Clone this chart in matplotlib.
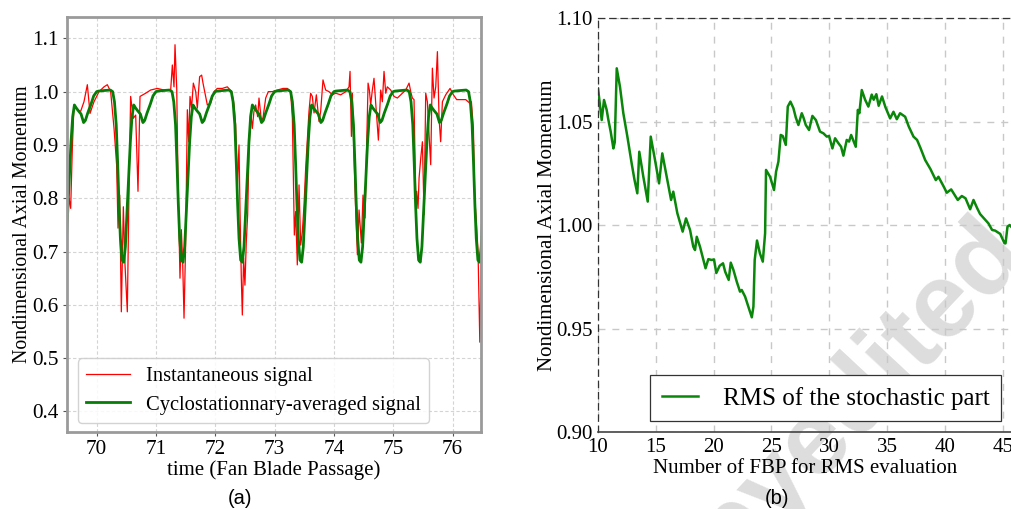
import matplotlib
matplotlib.use("Agg")
import matplotlib.pyplot as plt
import numpy as np

# ---- panel (a): instantaneous signal vs time
t_inst = [69.505, 69.534, 69.562, 69.59, 69.618, 69.674, 69.73, 69.786, 69.843, 69.888,
          69.955, 70.04, 70.124, 70.18, 70.236, 70.293, 70.337, 70.36, 70.388, 70.416,
          70.45, 70.478, 70.517, 70.545, 70.573, 70.618, 70.658, 70.697, 70.731, 70.826,
          70.91, 71.023, 71.136, 71.248, 71.276, 71.304, 71.321, 71.35, 71.372, 71.389,
          71.405, 71.428, 71.45, 71.473, 71.50, 71.529, 71.552, 71.574, 71.60, 71.63,
          71.67, 71.697, 71.736, 71.77, 71.793, 71.826, 71.866, 71.922, 71.978, 72.034,
          72.119, 72.203, 72.276, 72.316, 72.343, 72.372, 72.40, 72.417, 72.439, 72.456,
          72.478, 72.50, 72.523, 72.546, 72.568, 72.596, 72.625, 72.652, 72.68, 72.715,
          72.737, 72.776, 72.804, 72.85, 72.894, 72.962, 73.046, 73.142, 73.215, 73.27,
          73.30, 73.333, 73.355, 73.383, 73.412, 73.44, 73.468, 73.496, 73.524, 73.58,
          73.608, 73.636, 73.665, 73.704, 73.749, 73.777, 73.816, 73.861, 73.917, 73.974,
          74.03, 74.115, 74.2, 74.255, 74.272, 74.295, 74.311, 74.34, 74.368, 74.396,
          74.424, 74.463, 74.491, 74.525, 74.553, 74.576, 74.598, 74.62, 74.648, 74.676,
          74.705, 74.75, 74.789, 74.817, 74.845, 74.874, 74.9, 74.958, 75.014, 75.07,
          75.126, 75.211, 75.267, 75.295, 75.323, 75.351, 75.38, 75.396, 75.418, 75.436,
          75.464, 75.492, 75.52, 75.548, 75.576, 75.604, 75.632, 75.66, 75.688, 75.717,
          75.745, 75.773, 75.80, 75.829, 75.885, 75.958, 76.015, 76.07, 76.138, 76.222,
          76.295, 76.318, 76.352, 76.374, 76.40, 76.43, 76.46, 76.49]
v_inst = [0.750, 0.800, 0.781, 0.894, 0.975, 0.966, 0.963, 0.981, 1.013, 0.959,
          0.981, 1.000, 1.009, 1.013, 1.000, 0.931, 0.862, 0.744, 0.806, 0.587,
          0.784, 0.675, 0.587, 0.813, 0.991, 0.950, 0.956, 0.813, 0.991, 0.997,
          1.003, 1.006, 1.003, 1.003, 1.050, 1.009, 1.088, 1.006, 0.831, 0.737,
          0.650, 0.741, 0.681, 0.575, 0.713, 0.966, 0.906, 0.991, 0.969, 1.016,
          1.000, 0.969, 1.028, 1.031, 1.016, 0.997, 0.975, 0.978, 1.000, 1.006,
          1.006, 1.009, 1.000, 0.975, 0.938, 0.819, 0.900, 0.775, 0.650, 0.581,
          0.688, 0.637, 0.719, 0.769, 0.888, 0.963, 0.931, 0.963, 0.975, 0.953,
          0.988, 0.947, 0.950, 0.988, 1.000, 1.000, 1.003, 1.006, 1.006, 1.000,
          0.950, 0.731, 0.775, 0.675, 0.825, 0.712, 0.737, 0.787, 0.856, 0.963,
          0.997, 0.991, 0.960, 0.994, 0.944, 0.963, 1.022, 1.003, 1.000, 0.994,
          0.997, 0.994, 1.000, 1.009, 1.038, 0.916, 0.997, 0.875, 0.775, 0.694,
          0.778, 0.716, 0.806, 0.763, 0.906, 1.016, 1.003, 0.975, 1.003, 1.025,
          0.978, 0.909, 1.003, 0.981, 1.038, 0.997, 1.009, 1.003, 0.991, 0.988,
          0.994, 1.003, 1.016, 1.000, 0.988, 0.985, 0.788, 0.813, 0.781, 0.838,
          0.875, 0.906, 0.769, 0.997, 0.981, 0.919, 0.863, 1.044, 0.988, 1.009,
          1.075, 0.950, 0.906, 0.981, 0.994, 1.006, 0.994, 0.985, 0.985, 0.985,
          0.978, 0.981, 0.931, 0.800, 0.760, 0.700, 0.530, 0.720]

# phase-averaged profile over one blade passage (phase in [0, 1))
phase = [0.00, 0.03, 0.12, 0.23, 0.27, 0.30, 0.33, 0.355, 0.377, 0.40,
         0.428, 0.456, 0.484, 0.512, 0.54, 0.568, 0.596, 0.625, 0.652, 0.692,
         0.737, 0.78, 0.81, 0.85, 0.906, 0.95]
v_avg = [1.000, 1.001, 1.002, 1.003, 1.000, 0.981, 0.938, 0.863, 0.788, 0.725,
         0.684, 0.680, 0.709, 0.775, 0.844, 0.906, 0.953, 0.975, 0.970, 0.964,
         0.958, 0.942, 0.946, 0.960, 0.977, 0.992]
passages = range(69, 77)

# ---- panel (b): RMS of stochastic part vs number of FBP
n_fbp = [10.0, 10.32, 10.52, 10.75, 10.9, 11.1, 11.33, 11.45, 11.62, 11.9,
         12.19, 12.54, 12.91, 13.15, 13.40, 13.57, 13.92, 14.30, 14.56, 14.93,
         15.28, 15.56, 15.94, 16.32, 16.51, 16.86, 17.32, 17.61, 17.96, 18.24,
         18.39, 18.54, 18.82, 19.30, 19.54, 19.84, 20.03, 20.23, 20.52, 20.81,
         21.0, 21.30, 21.48, 21.71, 22.0, 22.28, 22.43, 22.72, 23.0, 23.3,
         23.44, 23.55, 23.75, 24.0, 24.25, 24.45, 24.53, 24.88, 25.22, 25.40,
         25.6, 25.80, 25.98, 26.24, 26.41, 26.64, 26.9, 27.1, 27.33, 27.62,
         27.76, 27.97, 28.25, 28.54, 28.84, 29.2, 29.49, 29.78, 29.98, 30.27,
         30.5, 30.79, 31.02, 31.22, 31.51, 31.71, 31.89, 32.29, 32.47, 32.6,
         32.81, 33.1, 33.38, 33.67, 33.84, 34.07, 34.27, 34.56, 34.85, 35.26,
         35.55, 35.84, 36.12, 36.56, 36.87, 37.28, 37.59, 37.9, 38.29, 38.75,
         39.21, 39.44, 39.9, 40.16, 40.54, 41.11, 41.46, 41.78, 42.18, 42.47,
         42.79, 43.04, 43.51, 43.76, 44.08, 44.34, 44.78, 45.15, 45.24, 45.41,
         45.60, 45.85]
rms = [1.066, 1.0507, 1.0604, 1.0556, 1.0507, 1.045, 1.037, 1.040, 1.0757, 1.0668,
       1.054, 1.0427, 1.0298, 1.022, 1.0153, 1.0354, 1.0233, 1.0113, 1.0427, 1.0314,
       1.0201, 1.0346, 1.0233, 1.0121, 1.0161, 1.0057, 0.9968, 1.0032, 0.9976, 0.9895,
       0.9879, 0.9943, 0.9895, 0.9791, 0.9835, 0.9831, 0.9834, 0.9768, 0.9803, 0.9815,
       0.9774, 0.9735, 0.9818, 0.9783, 0.9726, 0.9678, 0.9686, 0.9654, 0.9606, 0.9554,
       0.9606, 0.9831, 0.9925, 0.9863, 0.9823, 0.9960, 1.0266, 1.0233, 1.0169, 1.0258,
       1.0306, 1.0435, 1.043, 1.0387, 1.0572, 1.0596, 1.0564, 1.052, 1.0483, 1.054,
       1.052, 1.0483, 1.0459, 1.0527, 1.0507, 1.0451, 1.0443, 1.0427, 1.043, 1.037,
       1.0419, 1.0395, 1.0378, 1.0335, 1.0411, 1.0403, 1.0435, 1.0378, 1.0556, 1.054,
       1.0652, 1.0605, 1.0572, 1.0630, 1.0605, 1.0632, 1.0576, 1.0621, 1.0570, 1.0515,
       1.0547, 1.0511, 1.054, 1.0523, 1.0476, 1.0427, 1.0411, 1.037, 1.0314, 1.027,
       1.0217, 1.0233, 1.0185, 1.0156, 1.0172, 1.0121, 1.014, 1.0129, 1.0076, 1.0121,
       1.0081, 1.0053, 1.0024, 1.0008, 0.9976, 0.9973, 0.9957, 0.9912, 0.9911, 0.9992,
       1.000, 0.9984]

plt.rcParams['font.family'] = ['Liberation Serif', 'DejaVu Serif']
plt.rcParams['mathtext.fontset'] = 'stix'

fig = plt.figure(figsize=(10.12, 5.09), dpi=100)

# left panel
ax1 = fig.add_axes([67/1012, 1-432/509, 414/1012, 415/509])
t_avg = np.concatenate([k + np.array(phase) for k in passages])
ax1.plot(t_inst, v_inst, color='#ff0000', lw=0.9, label='Instantaneous signal')
ax1.plot(t_avg, np.tile(v_avg, len(passages)), color='#067d06', lw=2,
         label='Cyclostationnary-averaged signal')
ax1.set_xlim(69.5, 76.48)
ax1.set_ylim(0.3615, 1.14)
ax1.set_xticks(range(70, 77))
ax1.set_yticks([0.4, 0.5, 0.6, 0.7, 0.8, 0.9, 1.0, 1.1])
ax1.grid(True, color='#d4d4d4', ls=(0, (3, 2)), lw=0.8)
for s in ax1.spines.values():
    s.set_color('#9a9a9a')
    s.set_linewidth(2)
ax1.tick_params(labelsize=15.3, length=3, width=0.8, color='#555555', pad=3)
ax1.set_xlabel('time (Fan Blade Passage)', fontsize=15, labelpad=1)
ax1.set_ylabel('Nondimensional Axial Momentum', fontsize=14.3)
ax1.yaxis.set_label_coords(-0.085, 0.5)
leg1 = ax1.legend(loc='lower left', bbox_to_anchor=(0.027, 0.022), borderaxespad=0,
                  fontsize=14.8, handlelength=2.1, handletextpad=0.8, labelspacing=0.45,
                  fancybox=True, framealpha=0.85, edgecolor='#cccccc')

# right panel
ax2 = fig.add_axes([598/1012, 1-432/509, 414/1012, 414/509])
ax2.plot(n_fbp, rms, color='#0a870a', lw=1.8, label='RMS of the stochastic part')
ax2.set_xlim(10, 45.8)
ax2.set_ylim(0.90, 1.10)
ax2.set_xticks([10, 15, 20, 25, 30, 35, 40, 45])
ax2.set_yticks([0.90, 0.95, 1.00, 1.05, 1.10])
ax2.set_yticklabels(['0.90', '0.95', '1.00', '1.05', '1.10'])
ax2.grid(True, color='#c8c8c8', ls=(0, (5, 5)), lw=1)
ax2.spines['right'].set_visible(False)
for side in ['left', 'top']:
    ax2.spines[side].set_linestyle((0, (5, 4)))
    ax2.spines[side].set_color('#333333')
    ax2.spines[side].set_linewidth(0.9)
ax2.spines['bottom'].set_color('#444444')
ax2.spines['bottom'].set_linewidth(1.2)
ax2.tick_params(labelsize=15, length=0, pad=4)
ax2.set_xlabel('Number of FBP for RMS evaluation', fontsize=15, labelpad=2)
ax2.set_ylabel('Nondimensional Axial Momentum', fontsize=15)
ax2.yaxis.set_label_coords(-0.099, 0.5)
leg2 = ax2.legend(loc='lower right', bbox_to_anchor=(0.973, 0.027), borderaxespad=0,
                  fontsize=18, handlelength=1.45, handletextpad=1.0, fancybox=False,
                  framealpha=1, edgecolor='#333333', borderpad=0.45)
leg2.get_frame().set_linewidth(0.9)

# watermark
ax2.text(812/1012, 1-446/509, 'Copyedited', transform=fig.transFigure, rotation=47,
         ha='center', va='center', fontsize=76, fontweight='bold', color='#dddddd',
         family='Liberation Sans', zorder=0.5, clip_on=False)

fig.text(240/1012, 1-498/509, '(a)', ha='center', va='center', fontsize=14.5,
         family='Liberation Sans')
fig.text(777/1012, 1-498/509, '(b)', ha='center', va='center', fontsize=14.5,
         family='Liberation Sans')

fig.savefig('out.png', dpi=100)
